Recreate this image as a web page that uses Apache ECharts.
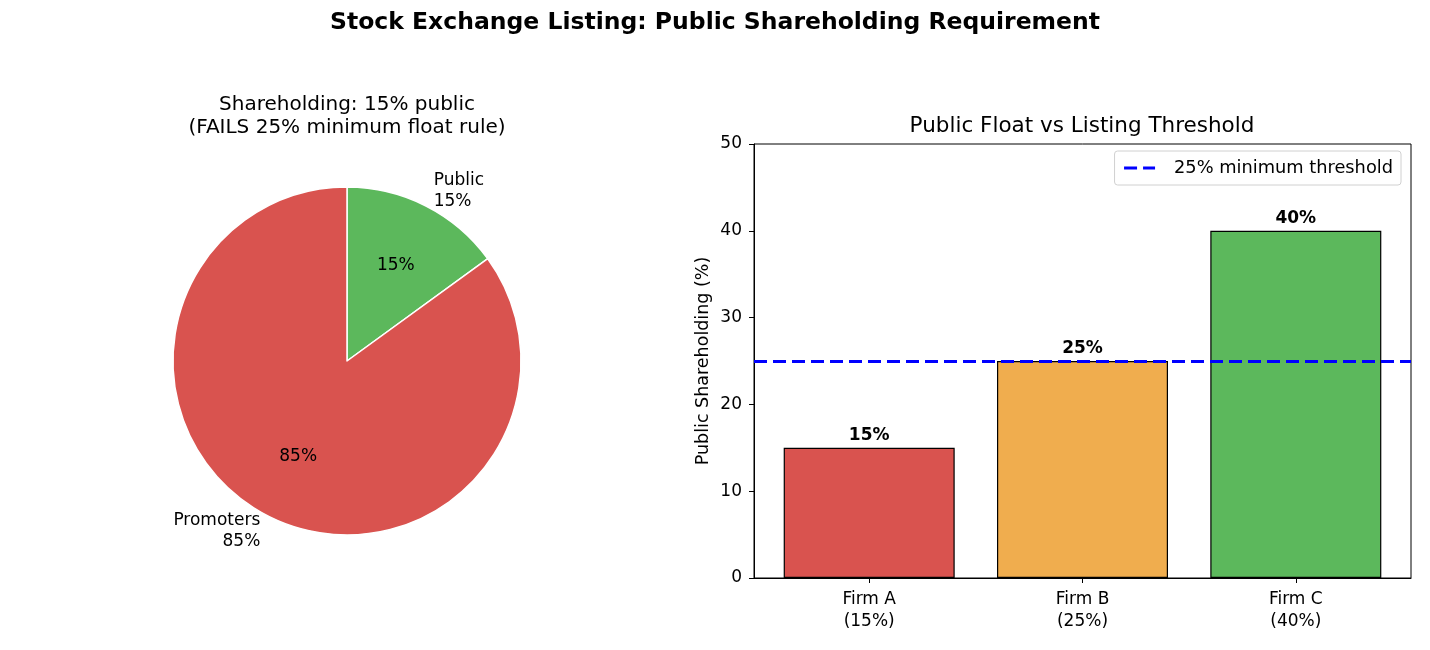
<!DOCTYPE html>
<html>
<head>
<meta charset="utf-8">
<script src="https://cdn.jsdelivr.net/npm/echarts@6/dist/echarts.min.js"></script>
<style>
  html, body { margin: 0; padding: 0; background: #fff; }
  #main { width: 1430px; height: 650px; }
</style>
</head>
<body>
<div id="main"></div>
<script>
// pie data
var pieNames = ['Public', 'Promoters'];
var pieValues = [15, 85];
var pieColors = ['#5cb85c', '#d9534f'];

// bar data
var firms = ['Firm A', 'Firm B', 'Firm C'];
var publicShare = [15, 25, 40];
var barColors = ['#d9534f', '#f0ad4e', '#5cb85c'];
var threshold = 25;

var FONT = 'DejaVu Sans';
var chart = echarts.init(document.getElementById('main'));

var pieData = pieNames.map(function (n, i) {
    return {
        name: n,
        value: pieValues[i],
        itemStyle: { color: pieColors[i] }
    };
});

var option = {
    animation: false,
    textStyle: { fontFamily: FONT, color: '#000' },
    title: [
        {
            text: 'Stock Exchange Listing: Public Shareholding Requirement',
            left: 715, top: 10, textAlign: 'center', padding: 0,
            textStyle: { fontFamily: FONT, fontSize: 23.5, fontWeight: 'bold', color: '#000', lineHeight: 26 }
        },
        {
            text: 'Shareholding: 15% public\n(FAILS 25% minimum float rule)',
            left: 347, top: 93, textAlign: 'center', padding: 0,
            textStyle: { fontFamily: FONT, fontSize: 20, fontWeight: 'normal', color: '#000', lineHeight: 23 }
        },
        {
            text: 'Public Float vs Listing Threshold',
            left: 1082, top: 113, textAlign: 'center', padding: 0,
            textStyle: { fontFamily: FONT, fontSize: 21.5, fontWeight: 'normal', color: '#000', lineHeight: 26 }
        }
    ],
    legend: {
        data: ['25% minimum threshold'],
        right: 29, top: 151,
        orient: 'vertical',
        backgroundColor: '#fff',
        borderColor: '#d0d0d0',
        borderWidth: 1,
        borderRadius: 3,
        padding: [8, 8, 8, 8],
        itemWidth: 31,
        itemHeight: 16,
        itemGap: 0,
        itemStyle: { opacity: 0 },
        lineStyle: { color: '#0000ff', width: 3, type: [13, 6] },
        textStyle: { fontFamily: FONT, fontSize: 17.8, color: '#000', padding: [0, 0, 0, 14] }
    },
    grid: {
        left: 754, top: 144, width: 657, height: 434,
        show: true, borderColor: '#000', borderWidth: 1, backgroundColor: 'transparent'
    },
    xAxis: {
        type: 'value',
        min: -0.54, max: 2.54,
        splitLine: { show: false },
        axisLine: { show: true, onZero: false, lineStyle: { color: '#000', width: 1 } },
        axisTick: { show: true, customValues: [0, 1, 2], length: 5, lineStyle: { color: '#000' } },
        axisLabel: {
            customValues: [0, 1, 2],
            margin: 11,
            fontFamily: FONT, fontSize: 17, color: '#000', lineHeight: 22,
            formatter: function (v) {
                var i = Math.round(v);
                return firms[i] + '\n(' + publicShare[i] + '%)';
            }
        }
    },
    yAxis: {
        type: 'value',
        min: 0, max: 50, interval: 10,
        name: 'Public Shareholding (%)',
        nameLocation: 'middle',
        nameGap: 42,
        nameTextStyle: { fontFamily: FONT, fontSize: 17.5, color: '#000' },
        splitLine: { show: false },
        axisLine: { show: true, onZero: false, lineStyle: { color: '#000', width: 1 } },
        axisTick: { show: true, length: 5, lineStyle: { color: '#000' } },
        axisLabel: { margin: 12, fontFamily: FONT, fontSize: 17, color: '#000' }
    },
    series: [
        {
            type: 'pie',
            center: [347, 361],
            radius: 174,
            startAngle: 90,
            clockwise: true,
            avoidLabelOverlap: false,
            silent: true,
            z: 2,
            itemStyle: { borderColor: '#fff', borderWidth: 1.5 },
            label: {
                show: true,
                position: 'outside',
                distanceToLabelLine: 0,
                fontFamily: FONT, fontSize: 17, color: '#000', lineHeight: 21,
                formatter: function (p) { return p.name + '\n' + p.value + '%'; }
            },
            labelLine: { show: false, length: 17, length2: 0 },
            data: pieData
        },
        {
            // inner percentage labels at 0.6 of the radius
            type: 'pie',
            center: [347, 361],
            radius: [0, 209],
            startAngle: 90,
            clockwise: true,
            silent: true,
            z: 5,
            itemStyle: { color: 'rgba(0,0,0,0)', borderWidth: 0 },
            label: {
                show: true, position: 'inside',
                fontFamily: FONT, fontSize: 17, color: '#000',
                formatter: function (p) { return p.value + '%'; }
            },
            labelLine: { show: false },
            data: pieNames.map(function (n, i) { return { name: n, value: pieValues[i] }; })
        },
        {
            type: 'bar',
            barWidth: 171,
            silent: true,
            itemStyle: { borderColor: '#000', borderWidth: 1.2 },
            label: {
                show: true, position: 'top', distance: 4,
                fontFamily: FONT, fontSize: 17, fontWeight: 'bold', color: '#000',
                formatter: function (p) { return p.value[1] + '%'; }
            },
            data: firms.map(function (f, i) {
                return { value: [i, publicShare[i]], itemStyle: { color: barColors[i] } };
            })
        },
        {
            name: '25% minimum threshold',
            type: 'line',
            symbol: 'none',
            data: [],
            color: '#0000ff',
            lineStyle: { color: '#0000ff', width: 3, type: [13, 6] },
            markLine: {
                silent: true,
                symbol: 'none',
                label: { show: false },
                lineStyle: { color: '#0000ff', width: 3, type: [13, 6] },
                data: [{ yAxis: threshold }]
            }
        }
    ]
};

chart.setOption(option);
</script>
</body>
</html>
